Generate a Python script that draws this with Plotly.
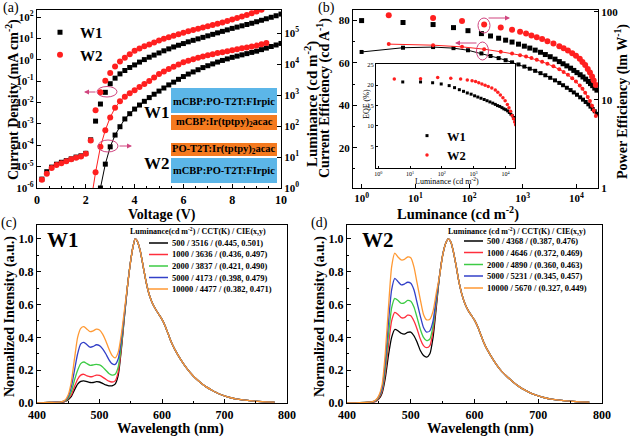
import plotly.graph_objects as go

W, H = 630, 437
FONT = "Liberation Serif"


def px(x):
    return x / W


def py(y):
    return 1 - y / H


# ---------------- panel (a): J-V-L ----------------
voltage = [0.2, 0.4, 0.6, 0.8, 1.0, 1.2, 1.4, 1.6, 1.8, 2.0,
           2.2, 2.4, 2.6, 2.8, 3.0, 3.2, 3.4, 3.6, 3.8, 4.0,
           4.2, 4.4, 4.6, 4.8, 5.0, 5.2, 5.4, 5.6, 5.8, 6.0,
           6.2, 6.4, 6.6, 6.8, 7.0, 7.2, 7.4, 7.6, 7.8, 8.0,
           8.2, 8.4, 8.6, 8.8, 9.0, 9.2, 9.4, 9.6, 9.8, 10.0]
w1_current = [2.6e-6, 5.8e-6, 9.5e-6, 1.3e-5, 1.6e-5, 1.9e-5, 2.3e-5, 2.8e-5, 3.2e-5, 4.2e-5,
              1.8e-4, 1.35e-3, 8.5e-3, 3.0e-2, 0.076, 0.138, 0.219, 0.316, 0.437, 0.575,
              0.78, 1.02, 1.32, 1.66, 2.09, 2.63, 3.24, 3.98, 4.79, 5.75,
              6.92, 8.13, 9.55, 11.2, 13.2, 15.5, 18.2, 21.4, 25.1, 29.5,
              33.9, 38.9, 44.7, 51.3, 60.3, 70.8, 83.2, 97.7, 115, 138]
w2_current = [2.45e-6, 4.7e-6, 8.7e-6, 1.2e-5, 1.45e-5, 1.8e-5, 2.2e-5, 2.6e-5, 3.0e-5, 4.0e-5,
              1.65e-4, 4.4e-3, 3.0e-2, 0.105, 0.24, 0.48, 0.83, 1.26, 1.82, 2.63,
              3.39, 4.27, 5.25, 6.46, 7.94, 9.55, 11.2, 13.2, 15.8, 18.6,
              21.4, 24.5, 28.2, 32.4, 37.2, 42.7, 49.0, 56.2, 66.1, 77.6,
              91.2, 107, 126, 151, 182, 219]
w1_lum = [1.0, 5.9, 21.4, 51.3, 95.5, 170, 251, 355, 479, 631,
          832, 1070, 1350, 1700, 2140, 2630, 3240, 3980, 4790, 5620,
          6610, 7760, 8910, 10200, 11700, 13200, 14800, 16600, 18200, 20000,
          21900, 24000, 26300, 29500, 33100, 37200, 41700, 46800]
w2_lum = [0.32, 3.2, 21.4, 74, 191, 389, 631, 891, 1150, 1450,
          1820, 2290, 2880, 3720, 4790, 5750, 6920, 8320, 9770, 11500,
          12900, 14500, 16200, 17800, 19500, 20900, 22900, 24500, 26300, 28200,
          30200, 32400, 34700, 37200, 39800, 43700, 47900]
v_w1_lum = voltage[12:]
v_w2_lum = voltage[10:47]
v_w2_cur = voltage[:len(w2_current)]

j_tickvals = [1e-6, 1e-5, 1e-4, 1e-3, 1e-2, 1e-1, 1e0, 1e1, 1e2]
j_ticktext = ["10<sup>-6</sup>", "10<sup>-5</sup>", "10<sup>-4</sup>", "10<sup>-3</sup>",
              "10<sup>-2</sup>", "10<sup>-1</sup>", "10<sup>0</sup>", "10<sup>1</sup>", "10<sup>2</sup>"]
l_tickvals = [1e0, 1e1, 1e2, 1e3, 1e4, 1e5]
l_ticktext = ["10<sup>0</sup>", "10<sup>1</sup>", "10<sup>2</sup>", "10<sup>3</sup>",
              "10<sup>4</sup>", "10<sup>5</sup>"]

# ---------------- panel (b): efficiencies ----------------
b_w1_lum = [1.0, 5.9, 21.4, 51.3, 95.5, 170, 251, 355, 479, 631,
            832, 1070, 1350, 1700, 2140, 2630, 3240, 3980, 4790, 5620,
            6610, 7760, 8910, 10200, 11700, 13200, 14800, 16600, 18200, 20000,
            21900, 24000]
w1_ce = [65.2, 67.2, 67.5, 67.0, 66.0, 64.5, 63.3, 62.3, 61.3, 60.3,
         59.3, 58.3, 57.3, 56.3, 55.2, 54.2, 53.0, 51.8, 50.6, 49.5,
         48.3, 47.2, 46.1, 45.0, 43.8, 42.7, 41.6, 40.5, 39.4, 38.3,
         37.2, 36.0]
w1_pe = [79.4, 75.5, 71.6, 66.1, 61.0, 56.5, 53.1, 50.1, 47.6, 45.3,
         42.9, 40.7, 38.7, 36.7, 34.7, 32.7, 30.9, 29.0, 27.2, 25.7,
         24.3, 22.9, 21.6, 20.4, 19.3, 18.2, 17.2, 16.2, 15.3, 14.5,
         13.6, 12.9]
b_w2_lum = [3.2, 21.4, 74, 191, 389, 631, 891, 1150, 1450, 1820,
            2290, 2880, 3720, 4790, 5750, 6920, 8320, 9770, 11500, 12900,
            14500, 16200, 17800, 19500, 20900, 22900]
w2_ce = [68.9, 68.4, 67.6, 66.5, 65.3, 64.5, 63.7, 63.0, 62.3, 61.5,
         60.6, 59.6, 58.4, 57.0, 55.8, 54.4, 52.8, 51.2, 49.4, 47.8,
         46.0, 44.0, 42.0, 39.8, 37.6, 35.0]
w2_pe = [91.2, 85.1, 78.5, 71.6, 66.1, 62.4, 59.2, 56.5, 53.7, 51.3,
         49.0, 46.2, 43.7, 40.7, 38.5, 36.3, 33.9, 31.6, 29.2, 26.9,
         24.8, 22.4, 20.4, 18.4, 16.6, 14.8]
# inset EQE
eqe_w1_lum = b_w1_lum[1:]
w1_eqe = [20.8, 20.8, 20.6, 20.3, 19.9, 19.4, 18.9, 18.5, 18.1, 17.8,
          17.4, 17.1, 16.8, 16.5, 16.2, 15.9, 15.6, 15.3, 15.0, 14.8,
          14.5, 14.2, 14.0, 13.7, 13.3, 12.9, 12.5, 12.1, 11.7, 11.3, 10.9]
w2_eqe = [21.5, 21.6, 21.9, 21.7, 21.5, 21.3, 21.1, 20.9, 20.6, 20.3,
          20.0, 19.7, 19.3, 18.8, 18.3, 17.6, 16.9, 16.2, 15.3, 14.5,
          13.6, 12.6, 11.8, 11.0, 10.3, 9.6]
dec_tickvals = [1, 10, 100, 1000, 10000]
dec_ticktext = ["10<sup>0</sup>", "10<sup>1</sup>", "10<sup>2</sup>", "10<sup>3</sup>", "10<sup>4</sup>"]

# ---------------- panels (c), (d): EL spectra ----------------
wl_blue = [400, 420, 440, 445, 450, 455, 460, 465, 470, 475, 480, 485,
           490, 495, 500, 505, 510, 515, 520, 525, 530, 535, 540]
c_blue = {
    "500":   [0.0, 0.003, 0.006, 0.01, 0.02, 0.04, 0.08, 0.115, 0.132, 0.135, 0.13, 0.125,
              0.125, 0.13, 0.128, 0.12, 0.11, 0.105, 0.105, 0.115, 0.17, 0.33, 0.53],
    "1000":  [0.0, 0.003, 0.006, 0.01, 0.025, 0.05, 0.1, 0.145, 0.17, 0.175, 0.165, 0.16,
              0.163, 0.17, 0.168, 0.158, 0.145, 0.133, 0.128, 0.135, 0.19, 0.34, 0.535],
    "2000":  [0.0, 0.003, 0.007, 0.012, 0.03, 0.07, 0.14, 0.2, 0.24, 0.25, 0.24, 0.23,
              0.232, 0.236, 0.232, 0.22, 0.2, 0.18, 0.17, 0.175, 0.22, 0.36, 0.54],
    "5000":  [0.0, 0.003, 0.008, 0.015, 0.04, 0.1, 0.2, 0.3, 0.36, 0.37, 0.355, 0.34,
              0.345, 0.355, 0.35, 0.33, 0.3, 0.265, 0.24, 0.235, 0.27, 0.39, 0.55],
    "10000": [0.0, 0.003, 0.009, 0.018, 0.05, 0.13, 0.27, 0.4, 0.455, 0.465, 0.45, 0.435,
              0.44, 0.45, 0.445, 0.42, 0.38, 0.33, 0.29, 0.275, 0.31, 0.42, 0.57],
}
c_tail_wl = [545, 550, 554, 557, 560, 565, 570, 575, 580, 585, 590, 595, 600, 605, 610,
             615, 620, 630, 640, 650, 660, 670, 680, 690, 700, 710, 720, 740, 760, 780]
c_tail = [0.72, 0.87, 0.96, 1.0, 0.99, 0.93, 0.83, 0.73, 0.655, 0.605, 0.57, 0.54, 0.51, 0.47, 0.42,
          0.37, 0.33, 0.265, 0.21, 0.165, 0.13, 0.1, 0.078, 0.058, 0.043, 0.032, 0.024, 0.014, 0.008, 0.005]
d_blue = {
    "500":   [0.0, 0.002, 0.006, 0.01, 0.025, 0.06, 0.15, 0.29, 0.40, 0.448, 0.44, 0.425,
              0.42, 0.43, 0.432, 0.41, 0.37, 0.32, 0.29, 0.28, 0.3, 0.4, 0.58],
    "1000":  [0.0, 0.002, 0.006, 0.01, 0.03, 0.07, 0.18, 0.35, 0.5, 0.553, 0.54, 0.52,
              0.52, 0.535, 0.532, 0.5, 0.45, 0.39, 0.35, 0.337, 0.35, 0.44, 0.6],
    "2000":  [0.0, 0.002, 0.007, 0.012, 0.035, 0.08, 0.21, 0.41, 0.58, 0.638, 0.625, 0.608,
              0.61, 0.625, 0.62, 0.585, 0.52, 0.45, 0.4, 0.38, 0.39, 0.47, 0.62],
    "5000":  [0.0, 0.002, 0.008, 0.015, 0.04, 0.09, 0.25, 0.49, 0.69, 0.76, 0.74, 0.72,
              0.725, 0.736, 0.73, 0.69, 0.61, 0.53, 0.46, 0.432, 0.44, 0.5, 0.64],
    "10000": [0.0, 0.002, 0.009, 0.018, 0.045, 0.11, 0.3, 0.58, 0.83, 0.914, 0.89, 0.872,
              0.875, 0.89, 0.885, 0.83, 0.73, 0.63, 0.54, 0.507, 0.51, 0.56, 0.67],
}
d_tail_wl = [545, 550, 555, 559, 563, 567, 571, 575, 580, 585, 590, 595, 600, 605, 610,
             615, 620, 630, 640, 650, 660, 670, 680, 690, 700, 710, 720, 740, 760, 780]
d_tail = [0.77, 0.9, 0.975, 1.0, 0.98, 0.92, 0.84, 0.75, 0.665, 0.605, 0.565, 0.535, 0.505, 0.465, 0.415,
          0.365, 0.325, 0.26, 0.205, 0.165, 0.13, 0.1, 0.077, 0.057, 0.043, 0.032, 0.024, 0.014, 0.008, 0.005]

lum_levels = ["500", "1000", "2000", "5000", "10000"]
spec_colors = ["#000000", "#FF2E3C", "#3DCB45", "#3340C8", "#FF9933"]
c_labels = ["500 / 3516 / (0.445, 0.501)", "1000 / 3636 / (0.436, 0.497)",
            "2000 / 3837 / (0.421, 0.490)", "5000 / 4173 / (0.398, 0.479)",
            "10000 / 4477 / (0.382, 0.471)"]
d_labels = ["500 / 4368 / (0.387, 0.476)", "1000 / 4646 / (0.372, 0.469)",
            "2000 / 4890 / (0.360, 0.463)", "5000 / 5231 / (0.345, 0.457)",
            "10000 / 5670 / (0.327, 0.449)"]

BLACK = "#000000"
RED = "#FF1F1F"
PINK = "#D0457F"

fig = go.Figure()

# panel a traces
fig.add_trace(go.Scatter(x=voltage, y=w1_current, mode="markers", name="W1",
                         marker=dict(symbol="square", size=5, color=BLACK), xaxis="x", yaxis="y", legend="legend"))
fig.add_trace(go.Scatter(x=v_w2_cur, y=w2_current, mode="markers", name="W2",
                         marker=dict(symbol="circle", size=6, color=RED), xaxis="x", yaxis="y", legend="legend"))
fig.add_trace(go.Scatter(x=v_w1_lum, y=w1_lum, mode="lines+markers", showlegend=False,
                         line=dict(color=BLACK, width=1), marker=dict(symbol="square", size=5, color=BLACK),
                         xaxis="x", yaxis="y2"))
fig.add_trace(go.Scatter(x=v_w2_lum, y=w2_lum, mode="lines+markers", showlegend=False,
                         line=dict(color=RED, width=1), marker=dict(symbol="circle", size=6, color=RED),
                         xaxis="x", yaxis="y2"))

# panel b traces
fig.add_trace(go.Scatter(x=b_w1_lum, y=w1_pe, mode="markers", showlegend=False,
                         marker=dict(symbol="square", size=5, color=BLACK), xaxis="x2", yaxis="y4"))
fig.add_trace(go.Scatter(x=b_w2_lum, y=w2_pe, mode="markers", showlegend=False,
                         marker=dict(symbol="circle", size=6, color=RED), xaxis="x2", yaxis="y4"))
fig.add_trace(go.Scatter(x=b_w1_lum, y=w1_ce, mode="lines+markers", showlegend=False,
                         line=dict(color=BLACK, width=1), marker=dict(symbol="square", size=4, color=BLACK),
                         xaxis="x2", yaxis="y3"))
fig.add_trace(go.Scatter(x=b_w2_lum, y=w2_ce, mode="lines+markers", showlegend=False,
                         line=dict(color=RED, width=1), marker=dict(symbol="circle", size=4, color=RED),
                         xaxis="x2", yaxis="y3"))
# inset
fig.add_trace(go.Scatter(x=eqe_w1_lum, y=w1_eqe, mode="markers", name="W1",
                         marker=dict(symbol="square", size=3, color=BLACK), xaxis="x3", yaxis="y5", legend="legend2"))
fig.add_trace(go.Scatter(x=b_w2_lum, y=w2_eqe, mode="markers", name="W2",
                         marker=dict(symbol="circle", size=3.5, color=RED), xaxis="x3", yaxis="y5", legend="legend2"))

# panels c, d
for lvl, col in zip(lum_levels, spec_colors):
    fig.add_trace(go.Scatter(x=wl_blue + c_tail_wl, y=c_blue[lvl] + c_tail, mode="lines", showlegend=False,
                             line=dict(color=col, width=1.3, shape="spline", smoothing=0.6),
                             xaxis="x4", yaxis="y6"))
    fig.add_trace(go.Scatter(x=wl_blue + d_tail_wl, y=d_blue[lvl] + d_tail, mode="lines", showlegend=False,
                             line=dict(color=col, width=1.3, shape="spline", smoothing=0.6),
                             xaxis="x5", yaxis="y7"))

common = dict(showline=True, linecolor=BLACK, linewidth=1.3, ticks="inside", ticklen=4, tickwidth=1.1,
              tickcolor=BLACK, showgrid=False, zeroline=False, automargin=False)

fig.update_layout(
    template="none",
    width=W, height=H, margin=dict(l=0, r=0, t=0, b=0, pad=0, autoexpand=False),
    paper_bgcolor="white", plot_bgcolor="white",
    font=dict(family=FONT, size=12, color=BLACK, weight="bold"),
    xaxis=dict(domain=[px(37), px(281)], range=[0, 10], anchor="y", tickvals=[0, 2, 4, 6, 8, 10],
               mirror=True, tickfont=dict(size=12), minor=dict(dtick=0.5, ticks="inside", ticklen=2), **common),
    yaxis=dict(domain=[py(188), py(10)], type="log", range=[-6, 2.33], anchor="x",
               tickvals=j_tickvals, ticktext=j_ticktext, tickfont=dict(size=11), **common),
    yaxis2=dict(overlaying="y", side="right", type="log", range=[0, 5.75], anchor="x",
                tickvals=l_tickvals, ticktext=l_ticktext, tickfont=dict(size=11), **common),
    xaxis2=dict(domain=[px(353), px(598)], type="log", range=[-0.16, 4.4], anchor="y3", mirror=True,
                tickvals=dec_tickvals, ticktext=dec_ticktext, tickfont=dict(size=11), **common),
    yaxis3=dict(domain=[py(188), py(10)], range=[1, 85], anchor="x2", tickvals=[20, 40, 60, 80],
                tickfont=dict(size=11), minor=dict(dtick=10, ticks="inside", ticklen=2), **common),
    yaxis4=dict(overlaying="y3", side="right", type="log", range=[0, 2.02], anchor="x2",
                tickvals=[1, 10, 100], ticktext=["1", "10", "100"], tickfont=dict(size=11), **common),
    xaxis3=dict(domain=[px(376), px(515)], type="log", range=[-0.07, 4.3], anchor="y5", mirror=True,
                tickvals=dec_tickvals, ticktext=dec_ticktext, tickfont=dict(size=6, weight="normal"),
                **{**common, "ticklen": 2, "linewidth": 1}),
    yaxis5=dict(domain=[py(168), py(64)], range=[-0.3, 25.2], anchor="x3", mirror=True,
                tickvals=[5, 10, 15, 20, 25], tickfont=dict(size=6.5, weight="normal"),
                **{**common, "ticklen": 2, "linewidth": 1}),
    xaxis4=dict(domain=[px(37), px(287)], range=[400, 800], anchor="y6", mirror=True,
                tickvals=[400, 500, 600, 700, 800], tickfont=dict(size=12),
                minor=dict(dtick=50, ticks="inside", ticklen=2), **common),
    yaxis6=dict(domain=[py(403), py(225)], range=[0, 1.085], anchor="x4", mirror=True,
                tickvals=[0, 0.2, 0.4, 0.6, 0.8, 1.0], tickformat=".1f", tickfont=dict(size=12),
                minor=dict(dtick=0.1, ticks="inside", ticklen=2), **common),
    xaxis5=dict(domain=[px(347), px(602)], range=[400, 800], anchor="y7", mirror=True,
                tickvals=[400, 500, 600, 700, 800], tickfont=dict(size=12),
                minor=dict(dtick=50, ticks="inside", ticklen=2), **common),
    yaxis7=dict(domain=[py(403), py(225)], range=[0, 1.085], anchor="x5", mirror=True,
                tickvals=[0, 0.2, 0.4, 0.6, 0.8, 1.0], tickformat=".1f", tickfont=dict(size=12),
                minor=dict(dtick=0.1, ticks="inside", ticklen=2), **common),
    legend=dict(x=px(40), y=py(16), xanchor="left", yanchor="top", bgcolor="rgba(0,0,0,0)",
                font=dict(size=15, family=FONT, weight="bold"), itemwidth=30, tracegroupgap=0),
    legend2=dict(x=px(407), y=py(121), xanchor="left", yanchor="top", bgcolor="rgba(0,0,0,0)",
                 font=dict(size=12.5, family=FONT, weight="bold"), itemwidth=30, tracegroupgap=0),
)


def ann(text, x, y, size, angle=0, weight="bold", xanchor="center"):
    return dict(text=text, x=px(x), y=py(y), xref="paper", yref="paper", showarrow=False,
                textangle=angle, xanchor=xanchor, yanchor="middle",
                font=dict(family=FONT, size=size, weight=weight, color=BLACK))


annotations = [
    ann("(a)", 11, 8, 14, weight="normal"),
    ann("(b)", 326, 8, 14, weight="normal"),
    ann("(c)", 9, 223, 14, weight="normal"),
    ann("(d)", 319, 223, 14, weight="normal"),
    ann("Current Density (mA cm<sup>-2</sup>)", 12, 100, 14, angle=-90),
    ann("Luminance (cd m<sup>-2</sup>)", 311, 104, 15, angle=-90),
    ann("Voltage (V)", 162, 215, 14),
    ann("Current Efficiency (cd A<sup>-1</sup>)", 324, 98, 14, angle=-90),
    ann("Power Efficiency (lm W<sup>-1</sup>)", 621, 102, 14, angle=-90),
    ann("Luminance (cd m<sup>-2</sup>)", 458, 213, 14.5),
    ann("EQE (%)", 366, 104, 8, angle=-90, weight="normal"),
    ann("Luminance (cd m<sup>-2</sup>)", 447, 181, 8, weight="normal"),
    ann("Normalized Intensity (a.u.)", 10, 317, 14, angle=-90),
    ann("Wavelength (nm)", 170, 428.5, 14.5),
    ann("Normalized Intensity (a.u.)", 320, 317, 14, angle=-90),
    ann("Wavelength (nm)", 480, 428.5, 14.5),
    ann("W1", 63, 240, 21),
    ann("W2", 378, 240, 21),
    ann("W1", 157, 113, 17),
    ann("W2", 157, 163, 17),
    ann("mCBP:PO-T2T:FIrpic", 224, 101, 10.5),
    ann("mCBP:Ir(tptpy)<sub>2</sub>acac", 224, 122, 10.5),
    ann("PO-T2T:Ir(tptpy)<sub>2</sub>acac", 224, 149, 10.5),
    ann("mCBP:PO-T2T:FIrpic", 224, 170, 10.5),
    ann("Luminance(cd m<sup>-2</sup>) / CCT(K) / CIE(x,y)", 128, 231, 8, xanchor="left"),
    ann("Luminance (cd m<sup>-2</sup>) / CCT(K) / CIE(x,y)", 446, 231, 8, xanchor="left"),
]
c_rows = [243, 254.5, 266, 277.5, 289]
d_rows = [241, 252.5, 264.5, 276, 288]
shapes = []
for lab, yy, col in zip(c_labels, c_rows, spec_colors):
    annotations.append(ann(lab, 170, yy, 8.5, xanchor="left"))
    shapes.append(dict(type="line", xref="paper", yref="paper", x0=px(149), x1=px(168), y0=py(yy), y1=py(yy),
                       line=dict(color=col, width=1.5)))
for lab, yy, col in zip(d_labels, d_rows, spec_colors):
    annotations.append(ann(lab, 485, yy, 8.5, xanchor="left"))
    shapes.append(dict(type="line", xref="paper", yref="paper", x0=px(464), x1=px(483), y0=py(yy), y1=py(yy),
                       line=dict(color=col, width=1.5)))

# arrows
for hx, hy, dx in [(84, 92, 13), (132, 146, -14), (510, 18, -23), (455, 43, 23)]:
    annotations.append(dict(x=px(hx), y=py(hy), xref="paper", yref="paper", text="", showarrow=True,
                            ax=dx, ay=0, arrowhead=2, arrowsize=1, arrowwidth=1, arrowcolor=PINK))

# coloured layer boxes
BLUE_BOX = "#5CB6E8"
ORANGE_BOX = "#F57A1F"
for (y0, y1, col) in [(88, 113, BLUE_BOX), (115, 130, ORANGE_BOX), (143, 156, ORANGE_BOX), (158, 183, BLUE_BOX)]:
    shapes.append(dict(type="rect", xref="paper", yref="paper", x0=px(171), x1=px(277), y0=py(y1), y1=py(y0),
                       fillcolor=col, line=dict(width=0), layer="above"))
# ellipses
for (x0, x1, y0, y1) in [(97, 117, 86.5, 97), (98, 118, 140, 152), (478, 490, 18, 33), (476.5, 488.5, 42, 60)]:
    shapes.append(dict(type="circle", xref="paper", yref="paper", x0=px(x0), x1=px(x1), y0=py(y1), y1=py(y0),
                       line=dict(color=PINK, width=1)))

fig.update_layout(annotations=annotations, shapes=shapes)
fig.write_html("out.html", config={"displayModeBar": False},
               post_script="document.body.style.margin='0';")
